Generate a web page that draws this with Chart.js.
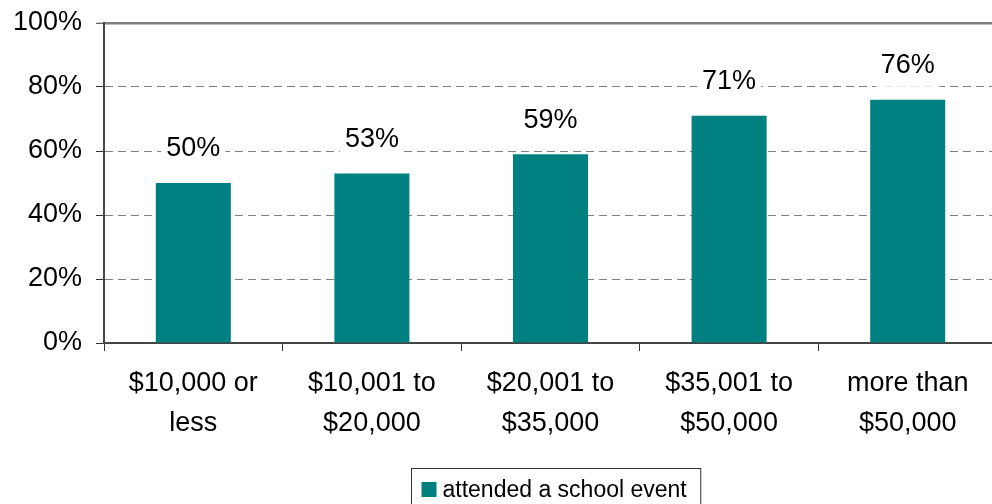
<!DOCTYPE html>
<html>
<head>
<meta charset="utf-8">
<script src="https://cdn.jsdelivr.net/npm/chart.js@4/dist/chart.umd.min.js"></script>
<style>
  html, body { margin: 0; padding: 0; background: #fff; overflow: hidden; }
  #wrap { position: relative; width: 997px; height: 504px; }
</style>
</head>
<body>
<div id="wrap"><canvas id="c"></canvas></div>
<script>
// Income brackets and the share who attended a school event
const categories = [
  ['$10,000 or', 'less'],
  ['$10,001 to', '$20,000'],
  ['$20,001 to', '$35,000'],
  ['$35,001 to', '$50,000'],
  ['more than', '$50,000']
];
const attended = [50, 53, 59, 71, 76];
const seriesName = 'attended a school event';
const yTicks = [0, 20, 40, 60, 80, 100];

const FONT = '"Liberation Sans", Arial, sans-serif';
const TEAL = '#008080';

// Value labels on white boxes above each bar
const valueLabels = {
  id: 'valueLabels',
  afterDatasetsDraw(chart) {
    const ctx = chart.ctx;
    const meta = chart.getDatasetMeta(0);
    const data = chart.data.datasets[0].data;
    ctx.save();
    ctx.font = '27px ' + FONT;
    ctx.textAlign = 'center';
    ctx.textBaseline = 'middle';
    meta.data.forEach((bar, i) => {
      const txt = data[i] + '%';
      const w = ctx.measureText(txt).width;
      const cy = bar.y - 34;
      ctx.fillStyle = '#fff';
      ctx.fillRect(bar.x - w / 2 - 5, cy - 21, w + 10, 42);
      ctx.fillStyle = '#000';
      ctx.fillText(txt, bar.x, cy);
    });
    ctx.restore();
  }
};

// Boxed legend centred under the plot
const boxedLegend = {
  id: 'boxedLegend',
  afterDraw(chart) {
    const ctx = chart.ctx;
    const ds = chart.data.datasets[0];
    const area = chart.chartArea;
    ctx.save();
    ctx.font = '23px ' + FONT;
    const tw = ctx.measureText(ds.label).width;
    const sq = 15, gap = 6, padL = 10, padR = 10;
    const boxW = padL + sq + gap + tw + padR;
    const left = Math.round((area.left + area.right) / 2 - boxW / 2 + 3) + 0.5;
    const top = area.bottom + 125.5;
    ctx.strokeStyle = '#333';
    ctx.lineWidth = 1;
    ctx.strokeRect(left, top, boxW + 4, 50);
    ctx.fillStyle = ds.backgroundColor;
    ctx.fillRect(left + padL, top + 13.5, sq, sq);
    ctx.fillStyle = '#000';
    ctx.textBaseline = 'alphabetic';
    ctx.fillText(ds.label, left + padL + sq + gap, top + 28.5);
    ctx.restore();
  }
};

new Chart(document.getElementById('c'), {
  type: 'bar',
  data: {
    labels: categories,
    datasets: [{
      label: seriesName,
      data: attended,
      backgroundColor: TEAL,
      borderWidth: 0,
      categoryPercentage: 1,
      barPercentage: 0.42
    }]
  },
  options: {
    responsive: true,
    maintainAspectRatio: false,
    animation: false,
    devicePixelRatio: 1,
    layout: { padding: { top: 23, right: 0, bottom: 0, left: 0 } },
    plugins: {
      legend: { display: false },
      tooltip: { enabled: false }
    },
    scales: {
      x: {
        grid: {
          drawOnChartArea: false,
          drawTicks: true,
          tickLength: 8,
          tickColor: '#333',
          tickWidth: 1,
          offset: true
        },
        border: { display: true, color: '#444', width: 2 },
        ticks: {
          color: '#000',
          font: { family: FONT, size: 27, lineHeight: 1.48 },
          padding: 13,
          maxRotation: 0,
          autoSkip: false
        },
        afterFit(scale) { scale.height = 161; }
      },
      y: {
        min: 0,
        max: 100,
        afterBuildTicks(scale) { scale.ticks = yTicks.map(v => ({ value: v })); },
        grid: {
          color: '#808080',
          lineWidth: c => (c.tick && c.tick.value === 100 ? 2.5 : 1),
          drawTicks: true,
          tickLength: 8,
          tickColor: '#333',
          tickWidth: 1
        },
        border: {
          display: true,
          color: '#444',
          width: 2,
          dash: c => (c.tick && c.tick.value === 100 ? [] : [8, 5])
        },
        ticks: {
          color: '#000',
          font: { family: FONT, size: 27 },
          padding: 14,
          callback: v => v + '%'
        },
        afterFit(scale) {
          scale.width = 104;
          scale.paddingTop = 0;
          scale.paddingBottom = 0;
        }
      }
    }
  },
  plugins: [valueLabels, boxedLegend]
});
</script>
</body>
</html>
